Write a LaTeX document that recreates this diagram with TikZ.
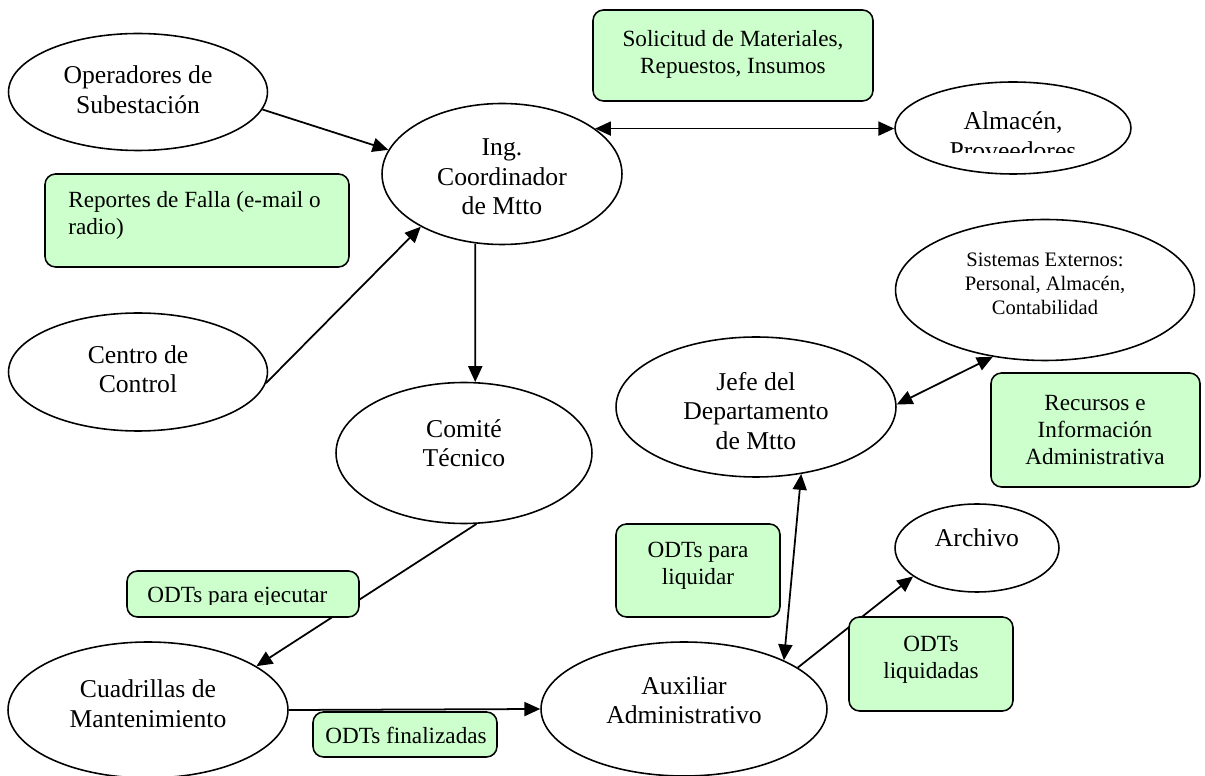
\documentclass[tikz,border=0pt]{standalone}
\usepackage{fontspec}
\setmainfont{Liberation Serif}
\usetikzlibrary{arrows.meta,shapes.geometric}
\definecolor{boxgreen}{HTML}{CCFFCC}
\begin{document}
\begin{tikzpicture}[x=0.02cm,y=-0.02cm,
  ent/.style={ellipse,draw,line width=0.9pt,inner sep=0pt,fill=white},
  txt/.style={align=center,inner sep=0pt,font=\fontsize{14.6}{16.8}\selectfont},
  small/.style={align=center,inner sep=0pt,font=\fontsize{11.7}{13.6}\selectfont},
  boxtxt/.style={align=center,inner sep=0pt,font=\fontsize{13.2}{15.4}\selectfont},
  flow/.style={draw,line width=1pt,-{Triangle[length=9pt,width=8pt]}},
  both/.style={draw,line width=1pt,{Triangle[length=9pt,width=8pt]}-{Triangle[length=9pt,width=8pt]}},
  msg/.style={draw,line width=0.9pt,rounded corners=6pt,fill=boxgreen}]
\useasboundingbox (0,0) rectangle (1205,776);

% actors
\node[ent,minimum width=5.18cm,minimum height=2.34cm] (op) at (138,92) {};
\node[txt] (opt) at (138,89.5) {Operadores de\\Subestación};
\node[ent,minimum width=5.18cm,minimum height=2.36cm] (centro) at (138,372) {};
\node[txt] (centrot) at (138,369) {Centro de\\Control};
\node[ent,minimum width=4.8cm,minimum height=2.82cm] (ing) at (502,174) {};
\node[txt] (ingt) at (502,177) {Ing.\\Coordinador\\de Mtto};
\node[ent,minimum width=4.72cm,minimum height=1.84cm] (almacen) at (1013,128) {};
\begin{scope}
  \clip (895,80) rectangle (1135,153);
  \node[txt] (almacent) at (1013,135.5) {Almacén,\\Proveedores};
\end{scope}
\node[ent,minimum width=5.98cm,minimum height=2.82cm] (sist) at (1045,290) {};
\node[small] (sistt) at (1045,284) {Sistemas Externos:\\Personal, Almacén,\\Contabilidad};
\node[ent,minimum width=5.6cm,minimum height=2.8cm] (jefe) at (756,407) {};
\node[txt] (jefet) at (756,411) {Jefe del\\Departamento\\de Mtto};
\node[ent,minimum width=5.12cm,minimum height=2.82cm] (comite) at (464,453) {};
\node[txt] (comitet) at (464,443) {Comité\\Técnico};
\node[ent,minimum width=3.28cm,minimum height=1.76cm] (archivo) at (977,548) {};
\node[txt] (archivot) at (977,538) {Archivo};
\node[ent,minimum width=5.6cm,minimum height=2.72cm] (cuad) at (148,710) {};
\node[txt] (cuadt) at (148,703.5) {Cuadrillas de\\Mantenimiento};
\node[ent,minimum width=5.72cm,minimum height=2.68cm] (aux) at (684,709) {};
\node[txt] (auxt) at (684,700) {Auxiliar\\Administrativo};

% flows
\draw[flow] (op.-8) -- (ing.168);
\draw[flow] (centro.-5) -- (ing.213);
\draw[both] (ing.26) -- (ing.26 -| almacen.west);
\draw[flow] (ing.249) -- (comite.81);
\draw[flow] (comite.-80) -- (cuad.22);
\draw[flow] (cuad.east) -- (aux.west);
\draw[both] (aux.26) -- (jefe.-56);
\draw[both] (jefe.1) -- (sist.232);
\draw[flow] (aux.20) -- (archivo.204);

% exchanged documents
\draw[msg] (593,10) rectangle (873,101);
\node[boxtxt] (solt) at (733,54) {Solicitud de Materiales,\\Repuestos, Insumos};
\draw[msg] (45,174) rectangle (349,267);
\node[boxtxt,align=left,anchor=west] (rept) at (68,215) {Reportes de Falla (e-mail o\\radio)};
\draw[msg] (991,373) rectangle (1200,487);
\node[boxtxt] (recut) at (1095,430) {Recursos e\\Información\\Administrativa};
\draw[msg] (616,524) rectangle (780,617);
\node[boxtxt] (paraliqt) at (698,566) {ODTs para\\liquidar};
\draw[msg] (849,617) rectangle (1013,711);
\node[boxtxt] (liqt) at (931,660) {ODTs\\liquidadas};
\draw[msg] (127,571) rectangle (359,617);
\begin{scope}
  \clip (127,571) rectangle (359,605);
  \node[boxtxt,anchor=west] (ejet) at (147,597) {ODTs para ejecutar};
\end{scope}
\draw[msg] (313,712) rectangle (497,757);
\node[boxtxt] (fint) at (406,735) {ODTs finalizadas};
\end{tikzpicture}
\end{document}
